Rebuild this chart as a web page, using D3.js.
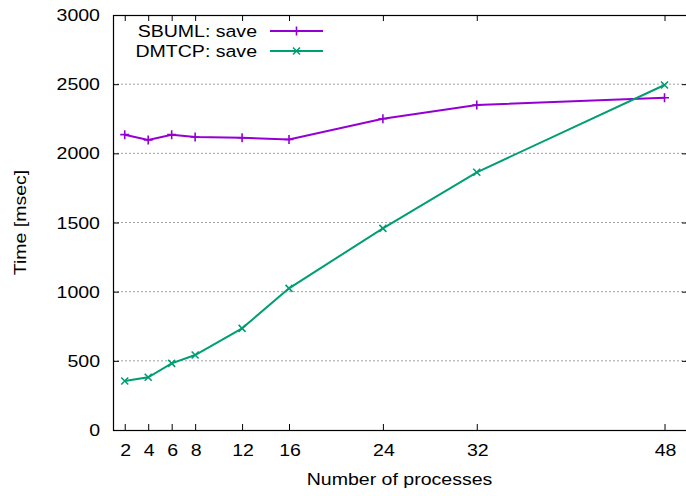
<!DOCTYPE html>
<html>
<head>
<meta charset="utf-8">
<script src="https://cdn.jsdelivr.net/npm/d3@7"></script>
<style>
  body { margin: 0; background: #fff; }
  text { font-family: "Liberation Sans", Arial, sans-serif; font-size: 17px; fill: #000; }
</style>
</head>
<body>
<script>
var processes = [2, 4, 6, 8, 12, 16, 24, 32, 48];
var sbumlSave = [2135, 2096, 2135, 2118, 2113, 2100, 2250, 2349, 2402];
var dmtcpSave = [354, 381, 482, 542, 735, 1024, 1458, 1863, 2494];
var yTicks = [0, 500, 1000, 1500, 2000, 2500, 3000];
var seriesNames = ['SBUML: save', 'DMTCP: save'];
var seriesColors = ['#9400d3', '#009e73'];

var width = 686, height = 496;
var plotLeft = 113, plotRight = 688, plotTop = 15, plotBottom = 430;
var stretch = 'scale(1.15,1)';

var svg = d3.select('body').append('svg')
  .attr('width', width)
  .attr('height', height);

var x = d3.scaleLinear().domain([1, 50]).range([plotLeft, plotRight]);
var y = d3.scaleLinear().domain([0, 3000]).range([plotBottom, plotTop]);

// grid
svg.selectAll('.grid')
  .data(yTicks.filter(function(d) { return d > 0 && d < 3000; }))
  .enter().append('line')
  .attr('x1', plotLeft).attr('x2', plotRight)
  .attr('y1', function(d) { return y(d); })
  .attr('y2', function(d) { return y(d); })
  .attr('stroke', '#a0a0a0')
  .attr('stroke-width', 1)
  .attr('stroke-dasharray', '2,2');

// ticks, all four sides, pointing inward
var xAxisB = d3.axisBottom(x).tickValues(processes).tickSize(-6).tickFormat('');
var xAxisT = d3.axisTop(x).tickValues(processes).tickSize(-6).tickFormat('');
var yAxisL = d3.axisLeft(y).tickValues(yTicks).tickSize(-6).tickFormat('');
var yAxisR = d3.axisRight(y).tickValues(yTicks).tickSize(-6).tickFormat('');

[[xAxisB, 'translate(0,' + plotBottom + ')'], [xAxisT, 'translate(0,' + plotTop + ')'],
 [yAxisL, 'translate(' + plotLeft + ',0)'], [yAxisR, 'translate(' + plotRight + ',0)']].forEach(function(a) {
  var g = svg.append('g').attr('transform', a[1]).call(a[0]);
  g.select('.domain').remove();
  g.selectAll('line').attr('stroke', '#000').attr('stroke-width', 1);
});

// frame
svg.append('rect')
  .attr('x', plotLeft + 0.5).attr('y', plotTop + 0.5)
  .attr('width', plotRight - plotLeft).attr('height', plotBottom - plotTop)
  .attr('fill', 'none')
  .attr('stroke', '#000')
  .attr('stroke-width', 1.2);

// tick labels
svg.selectAll('.ylab')
  .data(yTicks)
  .enter().append('text')
  .attr('transform', function(d) { return 'translate(100,' + (y(d) + 6) + ') ' + stretch; })
  .style('text-anchor', 'end')
  .text(function(d) { return d; });

svg.selectAll('.xlab')
  .data(processes)
  .enter().append('text')
  .attr('transform', function(d) { return 'translate(' + (x(d) + 1) + ',456) ' + stretch; })
  .style('text-anchor', 'middle')
  .text(function(d) { return d; });

svg.append('text')
  .attr('transform', 'translate(' + ((plotLeft + 686) / 2) + ',485) ' + stretch)
  .style('text-anchor', 'middle')
  .text('Number of processes');

svg.append('text')
  .attr('transform', 'translate(26,' + ((plotTop + plotBottom) / 2) + ') rotate(-90) ' + stretch)
  .style('text-anchor', 'middle')
  .text('Time [msec]');

// markers
function plus(g, cx, cy, color) {
  g.append('path')
    .attr('d', 'M' + (cx - 4.5) + ',' + cy + 'H' + (cx + 4.5) + 'M' + cx + ',' + (cy - 4.5) + 'V' + (cy + 4.5))
    .attr('stroke', color).attr('stroke-width', 1.6).attr('fill', 'none');
}
function cross(g, cx, cy, color) {
  g.append('path')
    .attr('d', 'M' + (cx - 3.5) + ',' + (cy - 3.5) + 'L' + (cx + 3.5) + ',' + (cy + 3.5) +
               'M' + (cx - 3.5) + ',' + (cy + 3.5) + 'L' + (cx + 3.5) + ',' + (cy - 3.5))
    .attr('stroke', color).attr('stroke-width', 1.6).attr('fill', 'none');
}

var series = [sbumlSave, dmtcpSave];
var markers = [plus, cross];
var line = d3.line()
  .x(function(d) { return x(d[0]); })
  .y(function(d) { return y(d[1]); });

series.forEach(function(vals, i) {
  var pts = processes.map(function(p, j) { return [p, vals[j]]; });
  var g = svg.append('g');
  g.append('path')
    .attr('d', line(pts))
    .attr('fill', 'none')
    .attr('stroke', seriesColors[i])
    .attr('stroke-width', 2);
  pts.forEach(function(p) { markers[i](g, x(p[0]), y(p[1]), seriesColors[i]); });
});

// legend
seriesNames.forEach(function(name, i) {
  var ly = 31 + i * 20;
  svg.append('text')
    .attr('transform', 'translate(257,' + (ly + 6) + ') ' + stretch)
    .style('text-anchor', 'end')
    .text(name);
  svg.append('line')
    .attr('x1', 270).attr('x2', 323)
    .attr('y1', ly).attr('y2', ly)
    .attr('stroke', seriesColors[i])
    .attr('stroke-width', 2);
  markers[i](svg, 296.5, ly, seriesColors[i]);
});
</script>
</body>
</html>
